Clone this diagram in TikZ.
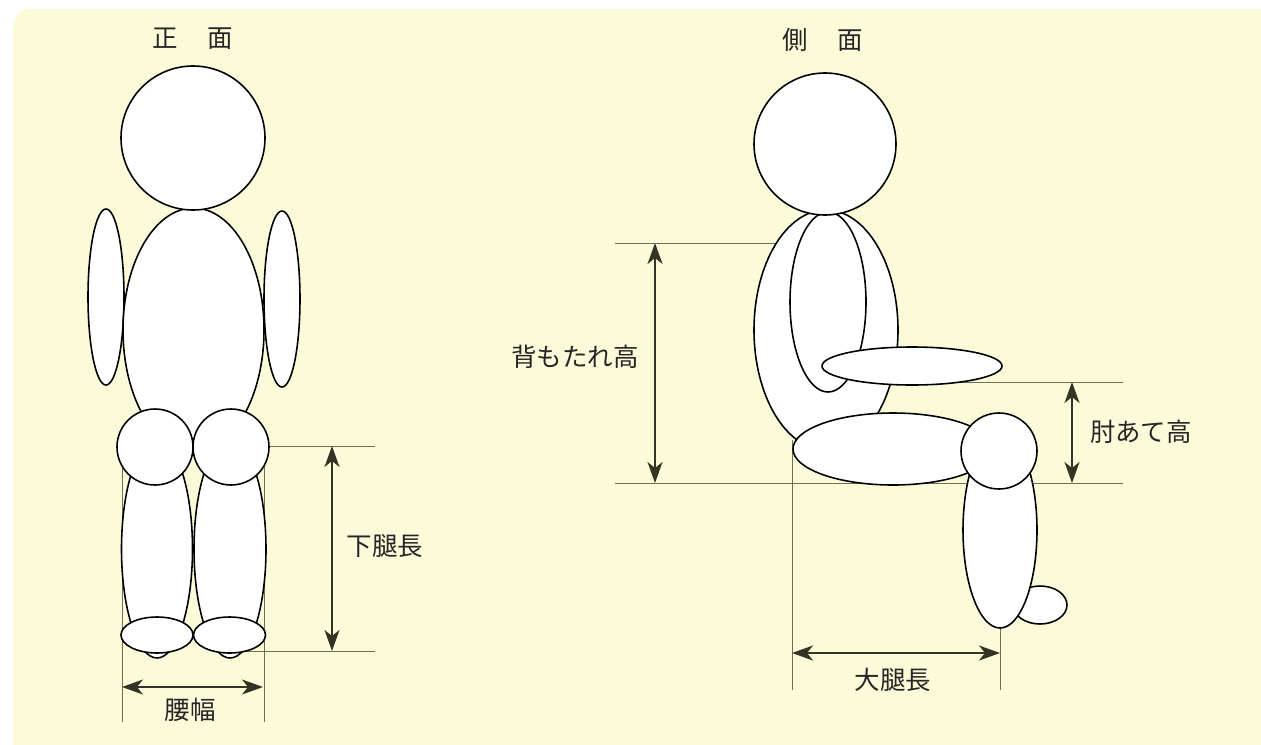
\documentclass[tikz,border=0pt]{standalone}
\usepackage{fontspec}
\setmainfont{Noto Sans CJK JP}
\usetikzlibrary{arrows.meta}

\definecolor{paper}{RGB}{252,251,217}
\definecolor{guide}{RGB}{110,110,84}
\definecolor{dimink}{RGB}{52,52,36}

\begin{document}
\begin{tikzpicture}[x=0.02cm, y=-0.02cm,
	body/.style={draw=black, fill=white, line width=0.9pt},
	guideline/.style={draw=guide, line width=0.55pt},
	dimarrow/.style={draw=dimink, line width=1.1pt,
		{Stealth[length=0.42cm, width=0.3cm, inset=0.12cm]}-{Stealth[length=0.42cm, width=0.3cm, inset=0.12cm]}},
	lbl/.style={text=black!85, inner sep=0pt, font=\fontsize{14.5}{17}\selectfont}]
	
	% 底色
	\clip (0,0) rectangle (1261,744);
	\fill[paper, rounded corners=0.35cm] (13,9) rectangle (1300,800);
	
	% --- 左图：正面 ---
	\begin{scope}
		\node[lbl] (ttlF) at (193,39) {正\hspace{0.6cm}面};
		
		% 尺寸辅助线 (先画，身体盖住)
		\coordinate (wL) at (122,687);
		\coordinate (wR) at (263,687);
		\coordinate (kT) at (332,446);
		\coordinate (kB) at (332,651);
		\draw[guideline] (122,460) -- (122,722);
		\draw[guideline] (264,460) -- (264,722);
		\draw[guideline] (240,446) -- (375,446);
		\draw[guideline] (240,651) -- (375,651);
		
		% 身体
		\draw[body] (106,297) ellipse (18 and 88);
		\draw[body] (282,299) ellipse (18 and 88);
		\draw[body] (193.5,330) ellipse (70.5 and 122);
		\draw[body] (157,549) ellipse (35.5 and 109);
		\draw[body] (230,549) ellipse (36 and 109);
		\draw[body] (155,447) circle (38);
		\draw[body] (231,447) circle (38);
		\draw[body] (157,635) ellipse (36 and 18);
		\draw[body] (229.5,635) ellipse (36 and 18);
		\draw[body] (193,138) circle (72);
		
		% 尺寸
		\draw[dimarrow] (kT) -- (kB);
		\draw[dimarrow] (wL) -- (wR);
		\node[lbl] (shin) at (385,546) {下腿長};
		\node[lbl] (hip) at (190,710) {腰幅};
	\end{scope}
	
	% --- 右图：侧面 (坐姿) ---
	\begin{scope}
		\node[lbl] (ttlS) at (823,40) {側\hspace{0.6cm}面};
		
		% 尺寸辅助线
		\coordinate (bT) at (655,243);
		\coordinate (bB) at (655,483);
		\coordinate (aT) at (1072,382);
		\coordinate (aB) at (1072,483);
		\coordinate (tL) at (792,653);
		\coordinate (tR) at (1000,653);
		\draw[guideline] (615,243) -- (790,243);
		\draw[guideline] (615,483) -- (1123,483);
		\draw[guideline] (880,382) -- (1123,382);
		\draw[guideline] (792,440) -- (792,690);
		\draw[guideline] (1000,620) -- (1000,690);
		
		% 身体
		\draw[body] (1040,605) ellipse (27 and 19);
		\draw[body] (1000,530) ellipse (37 and 98);
		\draw[body] (826,330) ellipse (72 and 120);
		\draw[body] (828,302) ellipse (38 and 90);
		\draw[body] (912,366) ellipse (90 and 19);
		\draw[body] (893,449) ellipse (100 and 36);
		\draw[body] (999,451) circle (38);
		\draw[body] (825,144) circle (71);
		
		% 尺寸
		\draw[dimarrow] (bT) -- (bB);
		\draw[dimarrow] (aT) -- (aB);
		\draw[dimarrow] (tL) -- (tR);
		\node[lbl] (back) at (575,357) {背もたれ高};
		\node[lbl] (elbow) at (1141,432) {肘あて高};
		\node[lbl] (thigh) at (893,680) {大腿長};
	\end{scope}
\end{tikzpicture}
\end{document}
